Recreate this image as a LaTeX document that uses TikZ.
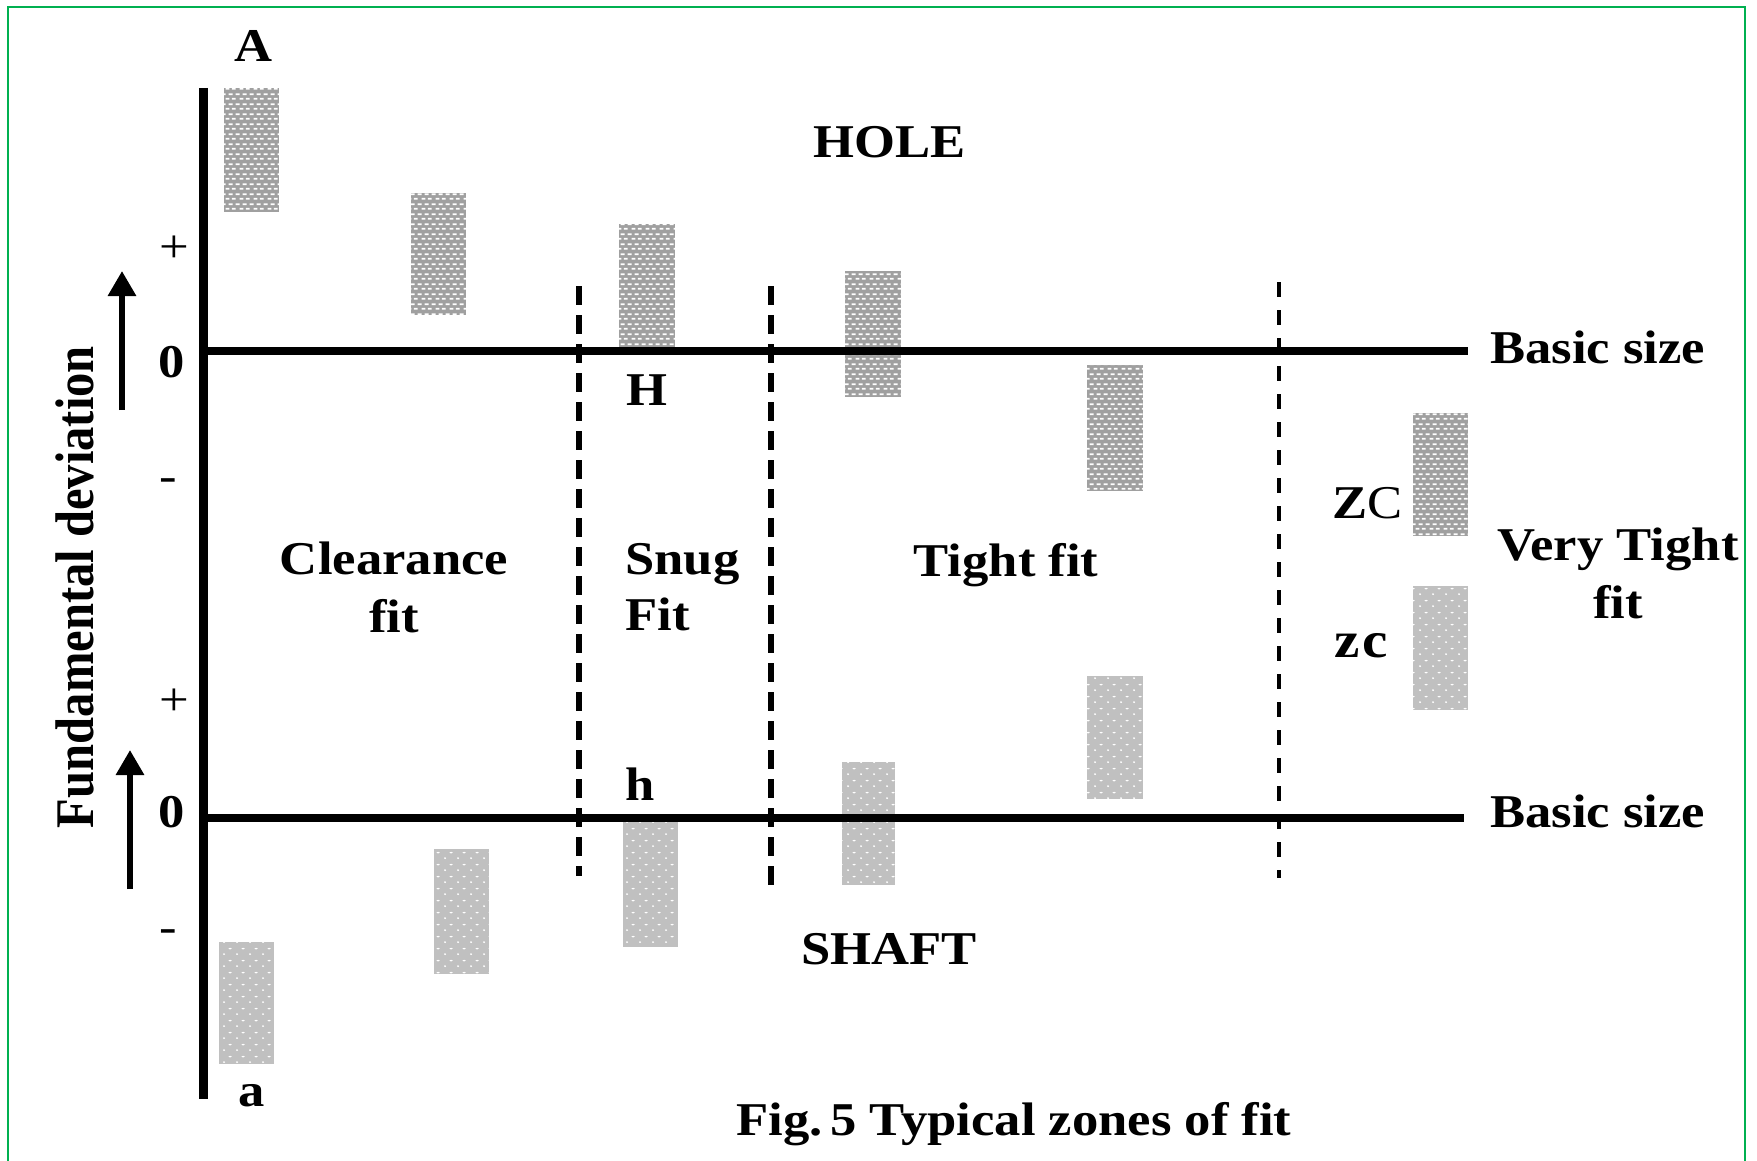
\documentclass[tikz,border=0pt]{standalone}
\usepackage{fontspec}
\setmainfont{Liberation Serif}[FakeStretch=1.12]
\newfontfamily\uprightserif{Liberation Serif}
\usepackage{graphicx}
\usetikzlibrary{arrows.meta,patterns}

\definecolor{framegreen}{RGB}{0,176,80}
\definecolor{holegray}{RGB}{160,160,160}
\definecolor{shaftgray}{RGB}{192,192,192}

% mesh texture for hole tolerance zones
\pgfdeclarepatternformonly{holemesh}{\pgfqpoint{0pt}{0pt}}{\pgfqpoint{7pt}{5pt}}{\pgfqpoint{7pt}{5pt}}{%
  \pgfpathrectangle{\pgfqpoint{0.8pt}{0.8pt}}{\pgfqpoint{2.1pt}{0.9pt}}%
  \pgfpathrectangle{\pgfqpoint{4.1pt}{0.8pt}}{\pgfqpoint{2.1pt}{0.9pt}}%
  \pgfpathrectangle{\pgfqpoint{2.4pt}{3.2pt}}{\pgfqpoint{2.2pt}{0.9pt}}%
  \pgfpathrectangle{\pgfqpoint{-0.3pt}{3.2pt}}{\pgfqpoint{1.1pt}{0.9pt}}%
  \pgfpathrectangle{\pgfqpoint{6.2pt}{3.2pt}}{\pgfqpoint{1.1pt}{0.9pt}}%
  \pgfusepath{fill}}

% dotted texture for shaft tolerance zones
\pgfdeclarepatternformonly{shaftdots}{\pgfqpoint{0pt}{0pt}}{\pgfqpoint{6.5pt}{6pt}}{\pgfqpoint{6.5pt}{6pt}}{%
  \pgfpathcircle{\pgfqpoint{1.6pt}{1.5pt}}{0.55pt}%
  \pgfpathellipse{\pgfqpoint{4.85pt}{4.5pt}}{\pgfqpoint{0.9pt}{0pt}}{\pgfqpoint{0pt}{0.45pt}}%
  \pgfusepath{fill}}

\begin{document}
\begin{tikzpicture}[x=0.5pt,y=-0.5pt,
  lbl/.style={inner sep=0pt,anchor=base,font=\fontsize{23.5}{27}\selectfont\bfseries},
  sign/.style={inner sep=0pt,anchor=base,font=\fontsize{23.5}{27}\selectfont},
  holezone/.style={pattern=holemesh,pattern color=white,preaction={fill=holegray}},
  shaftzone/.style={pattern=shaftdots,pattern color=white,preaction={fill=shaftgray}},
  axisline/.style={line width=4.5pt},
  basicline/.style={line width=4pt},
  zoneline/.style={line width=3pt,dash pattern=on 9.5pt off 5pt},
  thinzoneline/.style={line width=2pt,dash pattern=on 7.5pt off 6.5pt},
  fdarrow/.style={line width=3pt,-{Triangle[width=13.5pt,length=12.5pt]}}
]
\useasboundingbox (0,0) rectangle (1757,1161);
\fill[white] (0,0) rectangle (1757,1161);

% frame, open at the bottom
\draw[framegreen,line width=1.2pt] (8,1161) -- (8,7) -- (1745,7) -- (1745,1161);

% tolerance zones of the hole
\path[holezone] (224,88) rectangle (279,212);
\path[holezone] (411,193) rectangle (466,315);
\path[holezone] (619,224) rectangle (675,350);
\path[holezone] (845,271) rectangle (901,397);
\path[holezone] (1087,365) rectangle (1143,491);
\path[holezone] (1413,413) rectangle (1468,536);

% tolerance zones of the shaft
\path[shaftzone] (219,942) rectangle (274,1064);
\path[shaftzone] (434,849) rectangle (489,974);
\path[shaftzone] (623,821) rectangle (678,947);
\path[shaftzone] (842,762) rectangle (895,885);
\path[shaftzone] (1087,676) rectangle (1143,799);
\path[shaftzone] (1413,586) rectangle (1468,710);

% deviation axis and zero lines
\coordinate (axtop) at (203,88);
\coordinate (axbot) at (203,1099);
\coordinate (holezero) at (203,351);
\coordinate (holeend) at (1468,351);
\coordinate (shaftzero) at (203,818);
\coordinate (shaftend) at (1464,818);
\draw[axisline] (axtop) -- (axbot);
\draw[basicline] (holezero) -- (holeend);
\draw[basicline] (shaftzero) -- (shaftend);

% borders between the zones of fit
\coordinate (d1t) at (579,286);
\coordinate (d1b) at (579,876);
\coordinate (d2t) at (771,286);
\coordinate (d2b) at (771,893);
\coordinate (d3t) at (1279,282);
\coordinate (d3b) at (1279,878);
\draw[zoneline] (d1t) -- (d1b);
\draw[zoneline] (d2t) -- (d2b);
\draw[thinzoneline] (d3t) -- (d3b);

% direction arrows
\coordinate (ua) at (122,410);
\coordinate (ub) at (122,271);
\coordinate (la) at (130,889);
\coordinate (lb) at (130,750);
\draw[fdarrow] (ua) -- (ub);
\draw[fdarrow] (la) -- (lb);

% axis title
\node[inner sep=0pt,anchor=base,rotate=90] (fdev) at (93,587)
  {\scalebox{1}[1.12]{\uprightserif\fontsize{24.3}{28}\selectfont\bfseries Fundamental deviation}};

% signs on the axis
\node[sign] (plusH) at (174,262) {+};
\node[lbl] (zeroH) at (172,377) {0};
\node[sign] (minusH) at (168,491) {-};
\node[sign] (plusS) at (174,715) {+};
\node[lbl] (zeroS) at (172,827) {0};
\node[sign] (minusS) at (168,942) {-};

% labels
\node[lbl] (lA) at (254,62) {A};
\node[lbl] (lsa) at (252,1106) {a};
\node[lbl] (hole) at (890,158) {HOLE};
\node[lbl] (lH) at (647,405) {H};
\node[lbl] (lh) at (640,800) {h};
\node[lbl] (shaft) at (889,964) {SHAFT};
\node[lbl] (clear1) at (394,574) {Clearance};
\node[lbl] (clear2) at (394,632) {fit};
\node[lbl,anchor=base west] (snug1) at (625,574) {Snug};
\node[lbl,anchor=base west] (snug2) at (625,630) {Fit};
\node[lbl] (tight) at (1006,576) {Tight fit};
\node[lbl,anchor=base east] (ZC) at (1403,518) {Z\mdseries C};
\node[lbl,anchor=base east,font=\fontsize{25.5}{29}\selectfont\bfseries] (zc) at (1388,657) {z\kern0.04em c};
\node[lbl] (vt1) at (1618,560) {Very Tight};
\node[lbl] (vt2) at (1618,618) {fit};
\node[lbl,anchor=base west] (bs1) at (1490,363) {Basic size};
\node[lbl,anchor=base west] (bs2) at (1490,827) {Basic size};
\node[lbl] (caption) at (1014,1135) {Fig.\kern0.16em 5 Typical zones of fit};
\end{tikzpicture}
\end{document}
